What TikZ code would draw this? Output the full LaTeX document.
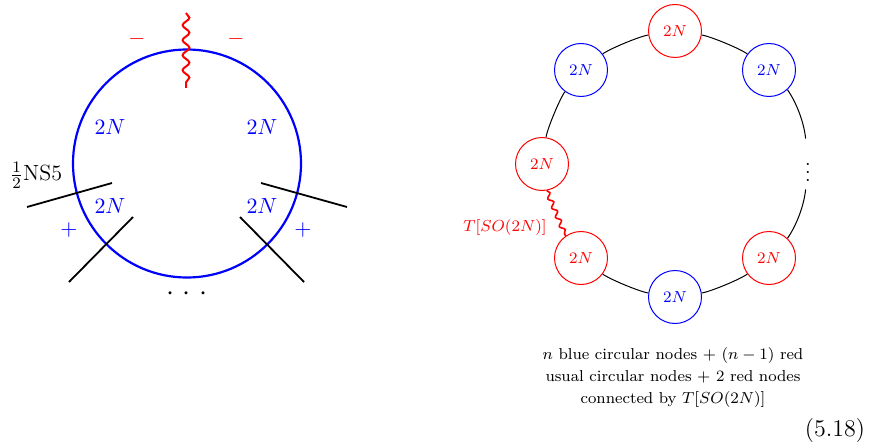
\documentclass[tikz,border=0pt]{standalone}
\usetikzlibrary{decorations.pathmorphing}
\begin{document}
\begin{tikzpicture}[x=0.5pt,y=0.5pt,
  brane/.style={line width=0.9pt, black},
  bigring/.style={draw=blue, line width=1.1pt, circle, minimum size=114pt, inner sep=0pt},
  wavy/.style={red, line width=1pt, decorate, decoration={snake, amplitude=1.7pt, segment length=7.5pt}},
  smallwavy/.style={red, line width=0.8pt, decorate, decoration={snake, amplitude=1.1pt, segment length=5pt}},
  rank/.style={blue, font=\fontsize{10.5}{13}\selectfont},
  sgn/.style={font=\fontsize{11}{13}\selectfont},
  qnode/.style={circle, draw, fill=white, line width=0.5pt, minimum size=26.5pt, inner sep=0pt, font=\fontsize{8}{10}\selectfont},
  rednode/.style={qnode, draw=red, text=red},
  bluenode/.style={qnode, draw=blue, text=blue},
  ringedge/.style={black, line width=0.5pt},
]
\useasboundingbox (0,0) rectangle (876,445);

% ---------- left picture ----------
\node[bigring] (ring) at (187,281.5) {};
\coordinate (wt) at (186,432);
\coordinate (wb) at (186,357);
\draw[wavy] (wt) -- (wb);
\node[sgn, red] (m1) at (137,406) {$-$};
\node[sgn, red] (m2) at (236,406) {$-$};

\node[rank] (r1) at (110,318) {$2N$};
\node[rank] (r2) at (262,318) {$2N$};
\node[rank] (r3) at (110,239) {$2N$};
\node[rank] (r4) at (262,239) {$2N$};

\node[sgn, blue] (p1) at (69,215) {$+$};
\node[sgn, blue] (p2) at (303,215) {$+$};

\coordinate (b1a) at (27,238);  \coordinate (b1b) at (112,262);
\coordinate (b2a) at (69,163);  \coordinate (b2b) at (133,228);
\coordinate (b3a) at (261,262); \coordinate (b3b) at (347,238);
\coordinate (b4a) at (240,228); \coordinate (b4b) at (304,163);
\draw[brane] (b1a) -- (b1b);
\draw[brane] (b2a) -- (b2b);
\draw[brane] (b3a) -- (b3b);
\draw[brane] (b4a) -- (b4b);

\node[font=\fontsize{11}{13}\selectfont] (ns5) at (36,270) {$\frac{1}{2}$NS5};
\node[font=\fontsize{14}{16}\selectfont] (dots) at (187,151) {${\cdot}\hspace{4.2pt}{\cdot}\hspace{4.2pt}{\cdot}$};

% ---------- right picture ----------
\node[rednode]  (nT)  at (675,414) {$2N$};
\node[bluenode] (nUL) at (581,375) {$2N$};
\node[bluenode] (nUR) at (769,375) {$2N$};
\node[rednode]  (nL)  at (542,281) {$2N$};
\node[rednode]  (nLL) at (581,187) {$2N$};
\node[bluenode] (nB)  at (675,148) {$2N$};
\node[rednode]  (nLR) at (769,187) {$2N$};
\coordinate (dU) at (805.6,306.4);
\coordinate (dD) at (805.6,255.6);
\node[font=\fontsize{10}{12}\selectfont] (vd) at (808,279) {$\vdots$};

\draw[ringedge] (dU) to[bend right=15, looseness=0.77] (nUR);
\draw[ringedge] (nUR) to[bend right=14, looseness=0.45] (nT);
\draw[ringedge] (nT) to[bend right=14, looseness=0.45] (nUL);
\draw[ringedge] (nUL) to[bend right=14, looseness=0.45] (nL);
\draw[ringedge] (nLL) to[bend right=14, looseness=0.45] (nB);
\draw[ringedge] (nB) to[bend right=14, looseness=0.45] (nLR);
\draw[ringedge] (nLR) to[bend right=15, looseness=0.77] (dD);

\draw[smallwavy] (nL.-80) -- (nLL.125);
\node[red, font=\fontsize{8}{10}\selectfont] (tso) at (505,218) {$T[SO(2N)]$};

\node[align=center, font=\fontsize{7.9}{11}\selectfont] (cap) at (673,68)
  {$n$ blue circular nodes $+$ $(n-1)$ red\\ usual circular nodes $+$ 2 red nodes\\ connected by $T[SO(2N)]$};
\node[font=\fontsize{12}{14}\selectfont] (eq) at (835,14) {(5.18)};
\end{tikzpicture}
\end{document}
